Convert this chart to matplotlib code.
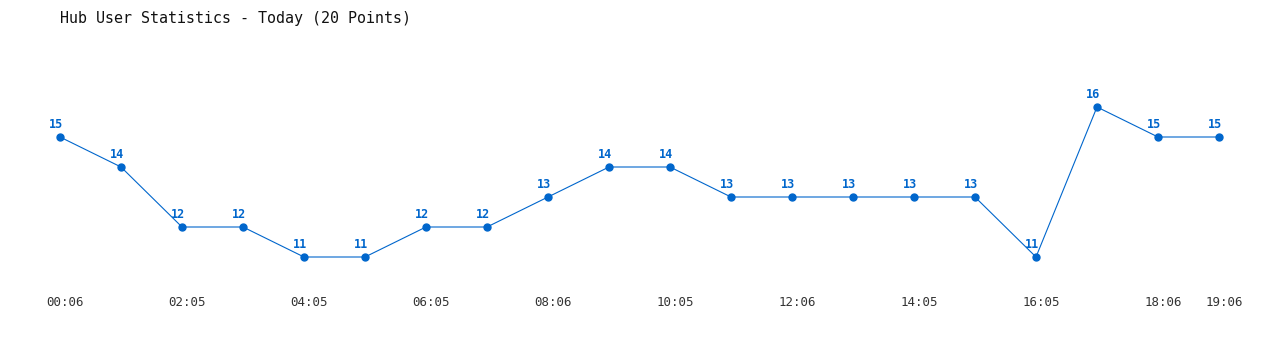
import matplotlib
matplotlib.use("Agg")
import matplotlib.pyplot as plt

# hub users, one point per hour
users = [15, 14, 12, 12, 11, 11, 12, 12, 13, 14, 14, 13, 13, 13, 13, 13, 11, 16, 15, 15]
tick_idx = [0, 2, 4, 6, 8, 10, 12, 14, 16, 18, 19]
tick_labels = ["00:06", "02:05", "04:05", "06:05", "08:06", "10:05",
               "12:06", "14:05", "16:05", "18:06", "19:06"]
title = "Hub User Statistics - Today (20 Points)"

blue = "#0066cc"
mono = "DejaVu Sans Mono"

fig = plt.figure(figsize=(12.8, 3.5), dpi=100)
ax = fig.add_axes([0, 0, 1, 1])
ax.set_axis_off()

# pixel mapping: point i at x = 60 + 61*i, value step 30 px
ax.set_xlim(-60 / 61, 1220 / 61)
ax.set_ylim(15 - 213 / 30, 15 + 137 / 30)

x = list(range(len(users)))
ax.plot(x, users, color=blue, lw=0.8, marker="o", ms=5, mec=blue, mfc=blue)

for i, v in zip(x, users):
    ax.annotate(str(v), (i, v), xytext=(-4, 13), textcoords="offset pixels",
                ha="center", va="center", fontsize=8.5, fontweight="bold",
                color=blue, family=mono)

for i, lab in zip(tick_idx, tick_labels):
    ax.annotate(lab, (i, 15 - 213 / 30), xytext=(5, 47), textcoords="offset pixels",
                ha="center", va="center", fontsize=9, color="#333333", family=mono)

fig.text(60 / 1280, 1 - 18 / 350, title, ha="left", va="center",
         fontsize=10.8, color="#111111", family=mono)

fig.savefig("out.png", dpi=100, facecolor="white")
